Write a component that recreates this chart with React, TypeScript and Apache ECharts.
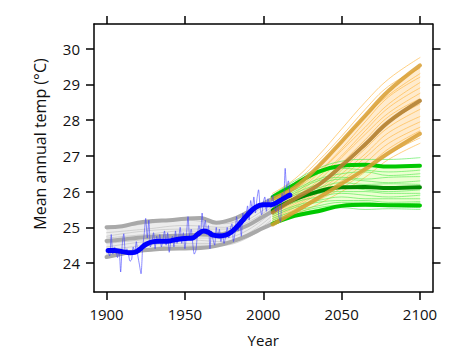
import React, { useEffect, useRef } from "react";
import * as echarts from "echarts";

// ---- Axis ticks ----
const X_TICKS = [1900, 1950, 2000, 2050, 2100];
const Y_TICKS = [24, 25, 26, 27, 28, 29, 30];

// ---- Observed (annual, 1901-2017) ----
const OBS_START = 1901;
const OBS_VALUES = [
  24.30, 24.20, 24.80, 24.25, 24.45, 24.40, 24.15, 24.35, 23.75, 24.50,
  24.82, 24.30, 24.40, 24.25, 24.05, 24.10, 24.45, 24.30, 24.60, 24.20,
  23.95, 23.70, 24.40, 24.80, 25.25, 24.70, 25.20, 24.45, 24.60, 24.85,
  24.40, 24.75, 24.55, 24.80, 24.45, 24.65, 24.90, 24.50, 24.85, 24.30,
  24.60, 24.75, 24.45, 24.90, 24.55, 24.70, 25.00, 24.55, 24.85, 24.40,
  24.80, 25.30, 24.75, 24.95, 24.55, 24.25, 24.35, 24.80, 25.05, 24.85,
  25.40, 24.95, 25.20, 24.80, 25.05, 24.40, 24.90, 24.65, 24.50, 25.00,
  24.70, 24.95, 24.60, 24.80, 24.55, 24.75, 25.00, 24.70, 24.95, 25.10,
  24.60, 24.85, 25.30, 24.90, 25.20, 24.75, 25.40, 25.15, 25.30, 25.60,
  25.20, 25.75, 25.50, 25.85, 25.40, 25.80, 26.05, 25.55, 25.35, 25.70,
  25.85, 25.45, 25.80, 25.65, 25.55, 25.90, 25.60, 25.45, 25.75, 25.30,
  25.15, 25.95, 25.80, 26.65, 26.10, 26.30, 25.95,
];

// ---- Observed smooth ----
const OBS_SMOOTH_YEARS = [1901, 1905, 1910, 1915, 1918, 1921, 1925, 1930, 1935, 1940, 1945, 1950, 1955, 1958, 1962, 1965, 1968, 1972, 1976, 1980, 1985, 1990, 1995, 2000, 2005, 2010, 2015, 2017];
const OBS_SMOOTH = [24.35, 24.35, 24.32, 24.29, 24.30, 24.38, 24.52, 24.60, 24.61, 24.62, 24.66, 24.69, 24.70, 24.80, 24.90, 24.86, 24.78, 24.76, 24.78, 24.88, 25.10, 25.35, 25.56, 25.63, 25.63, 25.73, 25.86, 25.90];

// ---- Historical model runs ----
const HIST_YEARS = [1900, 1910, 1920, 1930, 1940, 1950, 1960, 1970, 1980, 1990, 2000, 2005];
const HIST_UPPER = [25.00, 25.03, 25.13, 25.18, 25.20, 25.24, 25.26, 25.13, 25.22, 25.42, 25.66, 25.78];
const HIST_MID = [24.62, 24.66, 24.71, 24.74, 24.76, 24.77, 24.80, 24.79, 24.88, 25.05, 25.30, 25.42];
const HIST_LOWER = [24.17, 24.26, 24.34, 24.38, 24.40, 24.41, 24.42, 24.48, 24.60, 24.77, 24.98, 25.08];

const HIST_THIN_YEARS = [1900, 1925, 1950, 1975, 2005];
const HIST_THIN = [
  [24.95, 25.10, 25.20, 25.10, 25.75],
  [24.85, 24.95, 25.05, 25.00, 25.65],
  [24.75, 24.90, 24.95, 24.95, 25.55],
  [24.70, 24.80, 24.90, 24.85, 25.50],
  [24.55, 24.65, 24.70, 24.70, 25.40],
  [24.45, 24.60, 24.65, 24.60, 25.30],
  [24.35, 24.50, 24.55, 24.55, 25.20],
  [24.25, 24.40, 24.50, 24.50, 25.15],
];

// ---- Projections ----
const PROJ_YEARS = [2006, 2020, 2035, 2050, 2065, 2080, 2100];
const HIGH_UPPER = [25.80, 26.12, 26.70, 27.40, 28.12, 28.82, 29.53];
const HIGH_MID = [25.42, 25.80, 26.18, 26.72, 27.32, 27.95, 28.54];
const HIGH_LOWER = [25.08, 25.43, 25.82, 26.22, 26.63, 27.08, 27.62];
const HIGH_THIN = [
  [25.95, 26.35, 27.00, 27.75, 28.50, 29.15, 29.75],
  [25.85, 26.25, 26.85, 27.55, 28.30, 28.95, 29.45],
  [25.70, 26.10, 26.70, 27.40, 28.10, 28.70, 29.30],
  [25.75, 26.05, 26.55, 27.20, 27.95, 28.65, 29.20],
  [25.60, 25.95, 26.50, 27.15, 27.80, 28.45, 29.05],
  [25.55, 25.90, 26.40, 27.00, 27.70, 28.35, 28.90],
  [25.50, 25.85, 26.30, 26.95, 27.60, 28.20, 28.75],
  [25.45, 25.75, 26.20, 26.80, 27.45, 28.10, 28.60],
  [25.40, 25.70, 26.15, 26.70, 27.30, 27.95, 28.45],
  [25.35, 25.65, 26.05, 26.60, 27.20, 27.80, 28.30],
  [25.30, 25.60, 26.00, 26.50, 27.05, 27.65, 28.10],
  [25.25, 25.55, 25.95, 26.40, 26.95, 27.50, 27.95],
  [25.20, 25.50, 25.85, 26.30, 26.80, 27.35, 27.80],
  [25.15, 25.45, 25.80, 26.20, 26.65, 27.20, 27.70],
  [25.10, 25.40, 25.75, 26.10, 26.55, 27.05, 27.50],
  [25.12, 25.35, 25.65, 26.00, 26.40, 26.90, 27.35],
];

const LOW_UPPER = [25.85, 26.20, 26.55, 26.72, 26.75, 26.70, 26.72];
const LOW_MID = [25.48, 25.78, 26.00, 26.12, 26.13, 26.10, 26.12];
const LOW_LOWER = [25.10, 25.32, 25.45, 25.60, 25.63, 25.62, 25.61];
const LOW_THIN = [
  [25.90, 26.30, 26.65, 26.85, 26.90, 26.90, 26.95],
  [25.80, 26.15, 26.50, 26.65, 26.60, 26.55, 26.60],
  [25.75, 26.05, 26.35, 26.50, 26.55, 26.45, 26.50],
  [25.70, 26.00, 26.30, 26.40, 26.35, 26.40, 26.42],
  [25.65, 25.95, 26.20, 26.35, 26.30, 26.25, 26.30],
  [25.60, 25.90, 26.10, 26.25, 26.20, 26.22, 26.20],
  [25.55, 25.80, 26.05, 26.15, 26.05, 26.00, 26.05],
  [25.50, 25.75, 25.95, 26.00, 26.00, 25.95, 25.95],
  [25.45, 25.70, 25.85, 25.95, 25.90, 25.85, 25.90],
  [25.35, 25.60, 25.75, 25.85, 25.80, 25.80, 25.80],
  [25.30, 25.55, 25.70, 25.75, 25.75, 25.70, 25.72],
  [25.25, 25.45, 25.60, 25.70, 25.70, 25.65, 25.68],
  [25.20, 25.40, 25.55, 25.62, 25.60, 25.58, 25.55],
  [25.15, 25.35, 25.50, 25.55, 25.50, 25.52, 25.50],
];

const FONT = "'Open Sans', 'Noto Sans', sans-serif";
const SMOOTH = 0.4;

function pairs(xs: number[], ys: number[]) {
  return xs.map((x, i) => [x, ys[i]]);
}

function line(name: string, xs: number[], ys: number[], color: string, width: number, z = 2) {
  return {
    name,
    type: "line",
    data: pairs(xs, ys),
    smooth: SMOOTH,
    showSymbol: false,
    symbol: "none",
    silent: true,
    z,
    lineStyle: { color, width, cap: "round", join: "round" },
  };
}

// Smooth cubic path through pixel points (similar to ECharts' line smoothing)
function smoothSegs(pts: number[][], smooth: number, moveFirst: boolean) {
  const n = pts.length;
  const outCp: number[][] = [];
  const inCp: number[][] = [];
  for (let i = 0; i < n; i++) {
    const cur = pts[i];
    const prev = i > 0 ? pts[i - 1] : cur;
    const next = i < n - 1 ? pts[i + 1] : cur;
    const vx = next[0] - prev[0];
    const vy = next[1] - prev[1];
    const d0 = Math.hypot(cur[0] - prev[0], cur[1] - prev[1]);
    const d1 = Math.hypot(next[0] - cur[0], next[1] - cur[1]);
    const r = d0 + d1 === 0 ? 0.5 : d1 / (d0 + d1);
    outCp.push([cur[0] + vx * smooth * r, cur[1] + vy * smooth * r]);
    inCp.push([cur[0] - vx * smooth * (1 - r), cur[1] - vy * smooth * (1 - r)]);
  }
  let d = (moveFirst ? "M" : "L") + pts[0][0].toFixed(2) + "," + pts[0][1].toFixed(2);
  for (let i = 0; i < n - 1; i++) {
    const a = outCp[i];
    const b = inCp[i + 1];
    const p = pts[i + 1];
    d += `C${a[0].toFixed(2)},${a[1].toFixed(2)} ${b[0].toFixed(2)},${b[1].toFixed(2)} ${p[0].toFixed(2)},${p[1].toFixed(2)}`;
  }
  return d;
}

function band(id: string, xs: number[], lower: number[], upper: number[], color: string, z = 1) {
  return {
    name: id,
    type: "custom",
    silent: true,
    clip: true,
    z,
    data: [[xs[0], lower[0]]],
    renderItem: (_params: any, api: any) => {
      const up = xs.map((x, i) => api.coord([x, upper[i]]));
      const lo = xs.map((x, i) => api.coord([x, lower[i]])).reverse();
      const d = smoothSegs(up, SMOOTH, true) + smoothSegs(lo, SMOOTH, false) + "Z";
      return {
        type: "path",
        shape: { pathData: d },
        style: { fill: color, stroke: "none" },
      };
    },
  };
}

export default function App() {
  const ref = useRef<HTMLDivElement>(null);
  useEffect(() => {
    document.body.style.margin = "0";
    if (!ref.current) return;
    const chart = echarts.init(ref.current, undefined, { renderer: "svg" });

    const obsYears = OBS_VALUES.map((_, i) => OBS_START + i);
    const series: any[] = [];
    series.push(band("hist", HIST_YEARS, HIST_LOWER, HIST_UPPER, "rgba(200,200,200,0.35)", 1));
    HIST_THIN.forEach((ys, i) => series.push(line("hthin" + i, HIST_THIN_YEARS, ys, "rgba(185,185,185,0.7)", 0.8, 2)));
    series.push(line("hU", HIST_YEARS, HIST_UPPER, "#a9a9a9", 4, 3));
    series.push(line("hM", HIST_YEARS, HIST_MID, "#a9a9a9", 4, 3));
    series.push(line("hL", HIST_YEARS, HIST_LOWER, "#a9a9a9", 4, 3));

    series.push(band("high", PROJ_YEARS, HIGH_LOWER, HIGH_UPPER, "rgba(255,205,130,0.4)", 1));
    series.push(band("low", PROJ_YEARS, LOW_LOWER, LOW_UPPER, "rgba(225,255,180,0.6)", 1));
    HIGH_THIN.forEach((ys, i) => series.push(line("othin" + i, PROJ_YEARS, ys, "rgba(255,185,70,0.75)", 0.9, 2)));
    LOW_THIN.forEach((ys, i) => series.push(line("gthin" + i, PROJ_YEARS, ys, "rgba(80,235,80,0.7)", 0.9, 2)));
    series.push(line("gU", PROJ_YEARS, LOW_UPPER, "#00c800", 4, 4));
    series.push(line("gM", PROJ_YEARS, LOW_MID, "#008a00", 4, 4));
    series.push(line("gL", PROJ_YEARS, LOW_LOWER, "#00c800", 4, 4));
    series.push(line("oU", PROJ_YEARS, HIGH_UPPER, "rgba(216,158,48,0.85)", 4, 5));
    series.push(line("oM", PROJ_YEARS, HIGH_MID, "rgba(178,128,48,0.9)", 4, 5));
    series.push(line("oL", PROJ_YEARS, HIGH_LOWER, "rgba(216,158,48,0.85)", 4, 5));

    series.push({
      name: "obs",
      type: "line",
      data: pairs(obsYears, OBS_VALUES),
      symbol: "none",
      smooth: 0.25,
      silent: true,
      z: 6,
      lineStyle: { color: "rgba(60,60,255,0.65)", width: 0.9 },
    });
    series.push(line("obsSmooth", OBS_SMOOTH_YEARS, OBS_SMOOTH, "#0000ff", 5, 7));

    const xBase = {
      type: "value",
      min: 1892,
      max: 2108,
      splitLine: { show: false },
      axisLine: { show: true, onZero: false, lineStyle: { color: "#000", width: 1.5 } },
      axisTick: { show: true, customValues: X_TICKS, length: 8, lineStyle: { color: "#000", width: 1.5 } },
    };
    const yBase = {
      type: "value",
      min: 23.19,
      max: 30.69,
      splitLine: { show: false },
      axisLine: { show: true, onZero: false, lineStyle: { color: "#000", width: 1.5 } },
      axisTick: { show: true, customValues: Y_TICKS, length: 8, lineStyle: { color: "#000", width: 1.5 } },
    };

    chart.setOption({
      animation: false,
      textStyle: { fontFamily: FONT },
      grid: { left: 94, right: 38.5, top: 24, bottom: 57, containLabel: false },
      xAxis: [
        {
          ...xBase,
          position: "bottom",
          axisLabel: {
            customValues: X_TICKS,
            formatter: (v: number) => String(v),
            fontSize: 15,
            color: "#111",
            margin: 14,
            fontFamily: FONT,
          },
          name: "Year",
          nameLocation: "middle",
          nameGap: 40,
          nameTextStyle: { fontSize: 15, color: "#111", fontFamily: FONT },
        },
        { ...xBase, position: "top", axisLabel: { show: false } },
      ],
      yAxis: [
        {
          ...yBase,
          position: "left",
          axisLabel: {
            customValues: Y_TICKS,
            formatter: (v: number) => String(v),
            fontSize: 15,
            color: "#111",
            margin: 14,
            fontFamily: FONT,
          },
        },
        { ...yBase, position: "right", axisLabel: { show: false } },
      ],
      graphic: [
        {
          type: "text",
          x: 40,
          y: 144,
          rotation: Math.PI / 2,
          style: {
            text: "Mean annual temp (°C)",
            fontSize: 16,
            fontFamily: FONT,
            fill: "#111",
            align: "center",
            verticalAlign: "middle",
          },
        },
      ],
      series,
    });
    return () => chart.dispose();
  }, []);
  return <div ref={ref} style={{ width: 471, height: 352 }} />;
}
